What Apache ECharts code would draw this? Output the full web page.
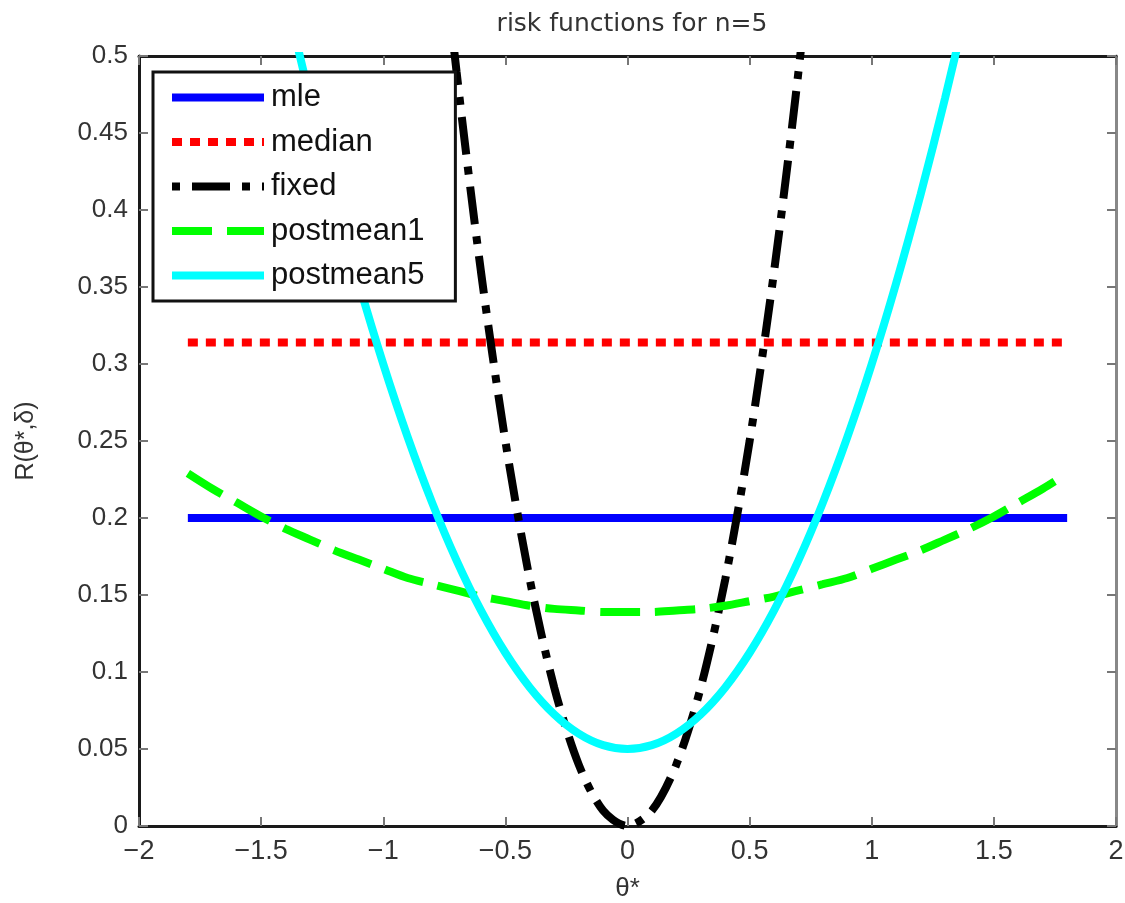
<!DOCTYPE html>
<html>
<head>
<meta charset="utf-8">
<title>risk functions for n=5</title>
<script src="https://cdn.jsdelivr.net/npm/echarts@6/dist/echarts.min.js"></script>
<style>
  html, body { margin: 0; padding: 0; background: #fff; }
  #chart { width: 1125px; height: 903px; }
</style>
</head>
<body>
<div id="chart"></div>
<script>
  // theta values (x)
  var theta = [-1.8, -1.7, -1.6, -1.5, -1.4, -1.3, -1.2, -1.1, -1.0, -0.9, -0.8, -0.7, -0.6, -0.5, -0.4, -0.3, -0.2, -0.1, 0,
               0.1, 0.2, 0.3, 0.4, 0.5, 0.6, 0.7, 0.8, 0.9, 1.0, 1.1, 1.2, 1.3, 1.4, 1.5, 1.6, 1.7, 1.8];
  var mle = [0.2, 0.2, 0.2, 0.2, 0.2, 0.2, 0.2, 0.2, 0.2, 0.2, 0.2, 0.2, 0.2, 0.2, 0.2, 0.2, 0.2, 0.2, 0.2,
             0.2, 0.2, 0.2, 0.2, 0.2, 0.2, 0.2, 0.2, 0.2, 0.2, 0.2, 0.2, 0.2, 0.2, 0.2, 0.2, 0.2, 0.2];
  var median = [0.314, 0.314, 0.314, 0.314, 0.314, 0.314, 0.314, 0.314, 0.314, 0.314, 0.314, 0.314, 0.314, 0.314, 0.314, 0.314, 0.314, 0.314, 0.314,
                0.314, 0.314, 0.314, 0.314, 0.314, 0.314, 0.314, 0.314, 0.314, 0.314, 0.314, 0.314, 0.314, 0.314, 0.314, 0.314, 0.314, 0.314];
  var fixed = [3.24, 2.89, 2.56, 2.25, 1.96, 1.69, 1.44, 1.21, 1.0, 0.81, 0.64, 0.49, 0.36, 0.25, 0.16, 0.09, 0.04, 0.01, 0,
               0.01, 0.04, 0.09, 0.16, 0.25, 0.36, 0.49, 0.64, 0.81, 1.0, 1.21, 1.44, 1.69, 1.96, 2.25, 2.56, 2.89, 3.24];
  var postmean1 = [0.229, 0.219, 0.210, 0.201, 0.193, 0.186, 0.179, 0.173, 0.167, 0.161, 0.157, 0.153, 0.149, 0.146, 0.143, 0.141, 0.140, 0.139, 0.139,
                   0.139, 0.140, 0.141, 0.143, 0.146, 0.149, 0.153, 0.157, 0.161, 0.167, 0.173, 0.179, 0.186, 0.193, 0.201, 0.210, 0.219, 0.229];
  var postmean5 = [0.86, 0.7725, 0.69, 0.6125, 0.54, 0.4725, 0.41, 0.3525, 0.30, 0.2525, 0.21, 0.1725, 0.14, 0.1125, 0.09, 0.0725, 0.06, 0.0525, 0.05,
                   0.0525, 0.06, 0.0725, 0.09, 0.1125, 0.14, 0.1725, 0.21, 0.2525, 0.30, 0.3525, 0.41, 0.4725, 0.54, 0.6125, 0.69, 0.7725, 0.86];
  var xTicks = [-2, 2, 0.5];
  var yTicks = [0, 0.5, 0.05];

  function pairs(ys) {
    return theta.map(function (x, i) { return [x, ys[i]]; });
  }

  var myChart = echarts.init(document.getElementById('chart'));
  var font = 'Liberation Sans, Arial, sans-serif';

  function xAxis(pos, show) {
    return {
      type: 'value', position: pos, min: xTicks[0], max: xTicks[1], interval: xTicks[2],
      axisLine: { show: true, onZero: false, lineStyle: { color: '#1a1a1a', width: 3 } },
      axisTick: { show: true, inside: true, length: 9, lineStyle: { color: '#777', width: 2 } },
      axisLabel: {
        show: show, color: '#333', fontSize: 27, fontFamily: font, margin: 12,
        formatter: function (v) { return String(v).replace('-', '\u2212'); }
      },
      splitLine: { show: false },
      name: show ? 'θ*' : '', nameLocation: 'middle', nameGap: 50,
      nameTextStyle: { color: '#333', fontSize: 26, fontFamily: font }
    };
  }
  function yAxis(pos, show) {
    return {
      type: 'value', position: pos, min: yTicks[0], max: yTicks[1], interval: yTicks[2],
      axisLine: { show: true, onZero: false, lineStyle: { color: pos == 'left' ? '#1a1a1a' : '#888', width: 3 } },
      axisTick: { show: true, inside: true, length: 9, lineStyle: { color: '#777', width: 2 } },
      axisLabel: {
        show: show, color: '#333', fontSize: 26, fontFamily: font, margin: 11,
        formatter: function (v) { return String(Math.round(v * 100) / 100); }
      },
      splitLine: { show: false },
      name: show ? 'R(θ*,δ)' : '', nameLocation: 'middle', nameGap: 100, nameRotate: 90,
      nameTextStyle: { color: '#333', fontSize: 25, fontFamily: font }
    };
  }

  function line(name, data, color, type) {
    return {
      name: name, type: 'line', data: pairs(data), showSymbol: false, symbol: 'none',
      smooth: type == 'solidcurve' || type == 'dashcurve' || type == 'dashdot' ? 0.3 : false,
      clip: true, animation: false,
      lineStyle: { color: color, width: 8, cap: 'butt',
        type: type == 'dot' ? [10, 8] : (type == 'dashcurve' ? [40, 15] : (type == 'dashdot' ? [8, 12, 38, 12] : 'solid')) },
      itemStyle: { color: color }
    };
  }

  option = {
    backgroundColor: '#fff',
    animation: false,
    title: {
      text: 'risk functions for n=5', left: 627, top: 7, textAlign: 'center',
      textStyle: { color: '#333', fontSize: 25, fontWeight: 'normal', fontFamily: 'DejaVu Sans, sans-serif' }
    },
    grid: { left: 139, right: 9, top: 56, bottom: 77, containLabel: false, outerBoundsMode: 'none' },
    legend: {
      orient: 'vertical', left: 153, top: 72,
      backgroundColor: '#fff', borderColor: '#111', borderWidth: 3,
      padding: [10, 31, 10, 15], itemGap: 13.5, itemWidth: 92, itemHeight: 8,
      itemStyle: { opacity: 0 },
      lineStyle: { width: 8, type: 'inherit', opacity: 1, cap: 'butt' },
      textStyle: { color: '#111', fontSize: 31, fontFamily: font, padding: [0, 0, 0, 2] },
      data: ['mle', 'median', 'fixed', 'postmean1', 'postmean5']
    },
    xAxis: [xAxis('bottom', true), xAxis('top', false)],
    yAxis: [yAxis('left', true), yAxis('right', false)],
    series: [
      line('mle', mle, '#0000ff', 'solid'),
      line('median', median, '#ff0000', 'dot'),
      line('fixed', fixed, '#000000', 'dashdot'),
      line('postmean1', postmean1, '#00ff00', 'dashcurve'),
      line('postmean5', postmean5, '#00ffff', 'solidcurve')
    ]
  };
  myChart.setOption(option);
</script>
</body>
</html>
